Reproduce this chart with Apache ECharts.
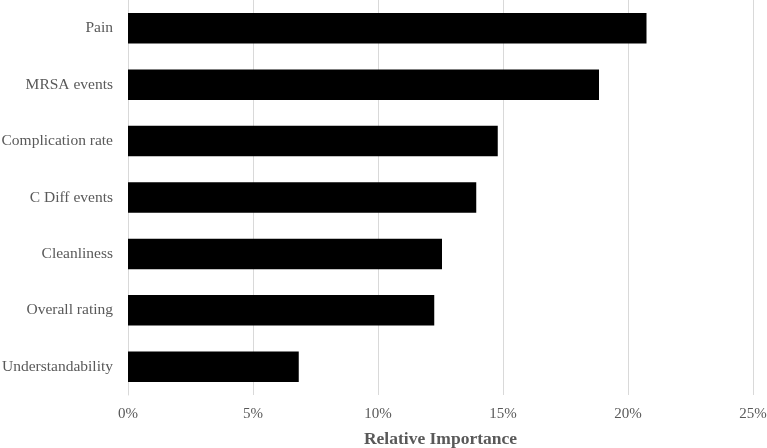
<!DOCTYPE html>
<html>
<head>
<meta charset="utf-8">
<script src="https://cdn.jsdelivr.net/npm/echarts@6/dist/echarts.min.js"></script>
<style>html,body{margin:0;padding:0;background:#fff}#c{width:767px;height:448px}</style>
</head>
<body>
<div id="c"></div>
<script>
var categories = ["Pain", "MRSA events", "Complication rate", "C Diff events", "Cleanliness", "Overall rating", "Understandability"];
var importance = [20.74, 18.84, 14.79, 13.93, 12.56, 12.25, 6.83];
var xTicks = [0, 5, 10, 15, 20, 25];

var chart = echarts.init(document.getElementById('c'));
var font = '"Liberation Serif", "Times New Roman", serif';
chart.setOption({
  animation: false,
  grid: {left: 128, right: 14, top: 0, bottom: 53, containLabel: false, outerBoundsMode: 'none'},
  xAxis: {
    type: 'value', min: xTicks[0], max: xTicks[xTicks.length - 1], interval: 5,
    axisLine: {show: false}, axisTick: {show: false},
    splitLine: {lineStyle: {color: '#d9d9d9', width: 1}},
    axisLabel: {formatter: '{value}%', color: '#595959', fontFamily: font, fontSize: 15, margin: 12},
    name: 'Relative Importance', nameLocation: 'middle', nameGap: 35,
    nameTextStyle: {color: '#595959', fontFamily: font, fontSize: 17.5, fontWeight: 'bold'}
  },
  yAxis: {
    type: 'category', data: categories, inverse: true,
    axisLine: {show: true, lineStyle: {color: '#d9d9d9'}}, axisTick: {show: false},
    axisLabel: {color: '#595959', fontFamily: font, fontSize: 15.5, margin: 15}
  },
  series: [{
    type: 'bar', data: importance, barCategoryGap: '46%',
    itemStyle: {color: '#000000'}
  }]
});
</script>
</body>
</html>
